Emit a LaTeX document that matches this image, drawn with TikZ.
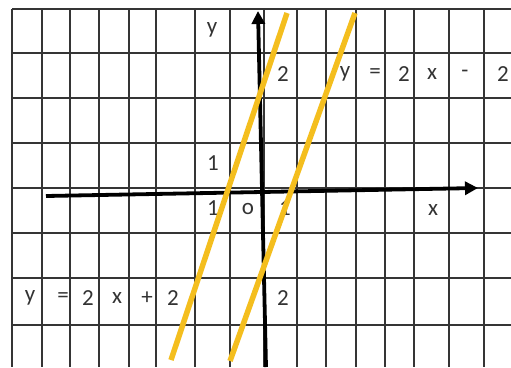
\documentclass[tikz,border=0pt]{standalone}
\usepackage{fontspec}
\setmainfont{Carlito}
\usetikzlibrary{arrows.meta}
\definecolor{gridc}{HTML}{353535}
\definecolor{txtc}{HTML}{333333}
\definecolor{lineyel}{HTML}{F4BE1E}
\tikzset{
  gridline/.style={draw=gridc, line width=1.4pt},
  axis/.style={draw=black, line width=3.8pt, -{Triangle[length=13pt,width=13pt]}},
  graphline/.style={draw=lineyel, line width=5.5pt},
  lbl/.style={text=txtc, font=\fontsize{23}{23}\selectfont, inner sep=0pt, anchor=center}
}
\begin{document}
\begin{tikzpicture}[x=1pt,y=-1pt]
\useasboundingbox (0,0) rectangle (511,367);
\fill[white] (0,0) rectangle (511,367);
% grid
\foreach \gx in {12,42,70,99,129,156,195,230,264,297,326,356,385,414,449,484}
  \draw[gridline] (\gx,9) -- (\gx,367);
\foreach \gy in {9,53,98,143,188,233,278,325}
  \draw[gridline] (12,\gy) -- (511,\gy);
% labels
\node[lbl] (ylab) at (212,30) {y};
\node[lbl] (t2) at (283,74) {2};
\node[lbl] (a1) at (345,74) {y};
\node[lbl] (a2) at (375,74) {=};
\node[lbl] (a3) at (404,74) {2};
\node[lbl] (a4) at (432,74) {x};
\node[lbl] (a5) at (465,74) {-};
\node[lbl] (a6) at (503,74) {2};
\node[lbl] (p1) at (213,163) {1};
\node[lbl] (m1) at (213,208) {1};
\node[lbl] (org) at (248,209) {o};
\node[lbl] (q1) at (285,208) {1};
\node[lbl] (xlab) at (433,210) {x};
\node[lbl] (m2) at (283,298) {2};
\node[lbl] (b1) at (30,298) {y};
\node[lbl] (b2) at (63,298) {=};
\node[lbl] (b3) at (88,298) {2};
\node[lbl] (b4) at (117,298) {x};
\node[lbl] (b5) at (147,298) {+};
\node[lbl] (b6) at (173,298) {2};
% axes
\coordinate (xs) at (46,196);
\coordinate (xe) at (478,188);
\coordinate (ys) at (266,367);
\coordinate (ye) at (258,11);
\draw[axis] (xs) -- (xe);
\draw[axis] (ys) -- (ye);
% graphs
\coordinate (l1t) at (287,13);
\coordinate (l1b) at (171,360);
\coordinate (l2t) at (355,13);
\coordinate (l2b) at (230,361);
\draw[graphline] (l1b) -- (l1t);
\draw[graphline] (l2b) -- (l2t);
\end{tikzpicture}
\end{document}
